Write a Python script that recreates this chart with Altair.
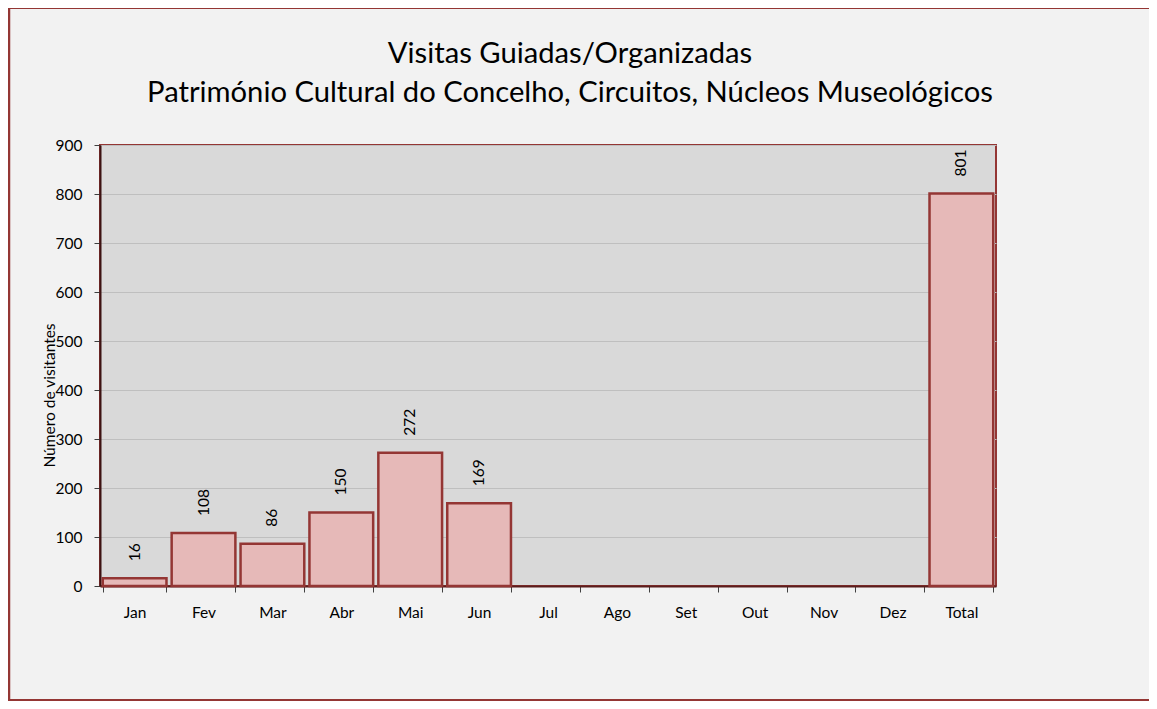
import altair as alt
import pandas as pd

months = ["Jan", "Fev", "Mar", "Abr", "Mai", "Jun", "Jul", "Ago", "Set", "Out", "Nov", "Dez", "Total"]
visitors = [16, 108, 86, 150, 272, 169, None, None, None, None, None, None, 801]
y_ticks = [0, 100, 200, 300, 400, 500, 600, 700, 800, 900]

title_lines = ["Visitas Guiadas/Organizadas",
               "Património Cultural do Concelho, Circuitos, Núcleos Museológicos"]
y_title = "Número de visitantes"

df = pd.DataFrame({"mes": months, "v": visitors})

FONT = "Lato"
DARK_RED = "#943634"
FS = 15.5

x_enc = alt.X("mes:N", sort=months,
              scale=alt.Scale(paddingInner=0.075, paddingOuter=0.04),
              axis=alt.Axis(title=None, labelAngle=0, labelFontSize=FS, labelColor="#000000",
                            labelFont=FONT, labelPadding=13, tickBand="extent", tickSize=6,
                            tickColor="#404040", domainColor="#5a1d1c", domainWidth=2,
                            grid=False))
y_enc = alt.Y("v:Q", scale=alt.Scale(domain=[0, 900], nice=False),
              axis=alt.Axis(title=y_title, values=y_ticks, labelFontSize=FS, labelColor="#000000",
                            labelFont=FONT, labelPadding=12, tickSize=6, tickColor="#404040",
                            domainColor="#3d1212", domainWidth=2,
                            gridColor="#bfbfbf", gridWidth=1,
                            titleFont=FONT, titleFontSize=FS, titleFontWeight="normal",
                            titleColor="#000000", titleX=-51, titleY=250, titleAngle=270,
                            titleAlign="center", titleBaseline="middle"))

frame_df = pd.DataFrame({"k": [0]})
frame_left = alt.Chart(frame_df).mark_rule(stroke=DARK_RED, strokeWidth=2.5).encode(
    x=alt.value(-91), y=alt.value(-137), y2=alt.value(556))
frame_top = alt.Chart(frame_df).mark_rule(stroke=DARK_RED, strokeWidth=2).encode(
    x=alt.value(-92), x2=alt.value(1049), y=alt.value(-137))
frame_bottom = alt.Chart(frame_df).mark_rule(stroke=DARK_RED, strokeWidth=2).encode(
    x=alt.value(-92), x2=alt.value(1049), y=alt.value(555))

bars = alt.Chart(df).mark_bar(
    fill="#e6b9b8", stroke=DARK_RED, strokeWidth=2.5
).encode(x=x_enc, y=y_enc)

labels = alt.Chart(df).transform_filter("datum.v != null").mark_text(
    angle=270, align="left", baseline="middle", dx=17, fontSize=FS, font=FONT, color="#000000"
).encode(x=alt.X("mes:N", sort=months), y=alt.Y("v:Q"), text=alt.Text("v:Q"))

chart = alt.layer(frame_left, frame_top, frame_bottom, bars, labels).properties(
    width=896, height=441,
    title=alt.Title(title_lines, font=FONT, fontSize=29.2, fontWeight="normal", color="#000000",
                    anchor="middle", dx=22, lineHeight=39, offset=-101),
    autosize=alt.AutoSizeParams(type="none"),
    padding={"left": 92, "top": 137, "right": 153, "bottom": 115},
    background="#f2f2f2",
).configure_view(fill="#d9d9d9", stroke=DARK_RED, strokeWidth=2)

chart.save("out.html", embed_options={"renderer": "svg", "actions": False})
